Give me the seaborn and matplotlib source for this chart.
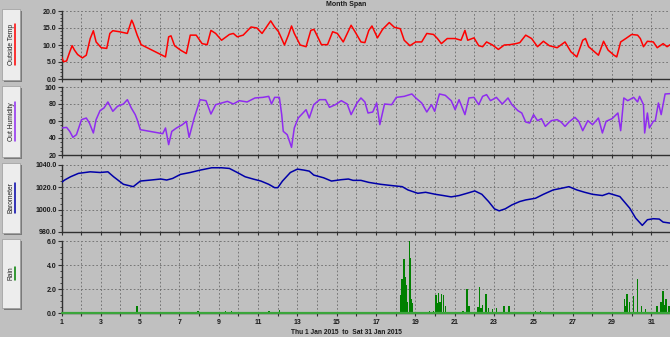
import numpy as np
import pandas as pd
import matplotlib
matplotlib.use("Agg")
import matplotlib.pyplot as plt
import seaborn as sns
from matplotlib.ticker import MultipleLocator, AutoMinorLocator
from matplotlib.patches import Rectangle
from matplotlib.lines import Line2D

# ---------------- data (day of January 2015, fractional) ----------------
temp_day = [1.00, 1.10, 1.26, 1.42, 1.54, 1.66, 1.82, 2.06, 2.26, 2.46, 2.62, 2.76, 3.02, 3.30,
            3.46, 3.61, 3.95, 4.35, 4.57, 4.65, 4.85, 5.05, 6.29, 6.45, 6.57, 6.75, 7.05, 7.35,
            7.55, 7.85, 8.15, 8.41, 8.60, 8.84, 9.14, 9.54, 9.74, 9.94, 10.24, 10.64, 10.94,
            11.20, 11.64, 11.84, 12.04, 12.34, 12.54, 12.70, 12.84, 13.14, 13.44, 13.68, 13.84,
            14.03, 14.22, 14.53, 14.79, 15.03, 15.33, 15.73, 15.93, 16.23, 16.43, 16.63, 16.79,
            17.07, 17.33, 17.67, 17.93, 18.23, 18.43, 18.72, 19.02, 19.32, 19.58, 19.92, 20.12,
            20.32, 20.62, 21.02, 21.32, 21.52, 21.66, 21.98, 22.22, 22.42, 22.62, 22.92, 23.22,
            23.52, 23.81, 24.11, 24.31, 24.61, 24.91, 25.21, 25.51, 25.81, 26.21, 26.61, 26.91,
            27.21, 27.51, 27.65, 27.81, 28.11, 28.31, 28.57, 28.80, 29.10, 29.24, 29.44, 29.70,
            30.00, 30.30, 30.44, 30.60, 30.80, 31.10, 31.30, 31.60, 31.80, 31.96]
temp_val = [6.5, 5.1, 5.3, 8.0, 9.8, 8.5, 7.2, 6.2, 7.0, 11.9, 14.2, 10.9, 9.2, 9.0,
            13.4, 14.2, 13.9, 13.4, 17.3, 16.3, 12.9, 10.1, 6.5, 12.4, 12.7, 9.8, 8.5, 7.5,
            12.9, 12.9, 10.4, 10.1, 14.3, 13.4, 11.4, 13.1, 13.4, 12.4, 12.9, 15.3, 15.0,
            13.4, 17.1, 15.3, 13.9, 10.0, 12.9, 15.6, 13.4, 10.0, 9.5, 14.3, 14.6,
            12.4, 10.1, 10.1, 13.9, 13.4, 10.9, 15.8, 13.9, 10.9, 10.7, 14.3, 15.6,
            12.1, 14.6, 16.6, 15.2, 14.8, 11.4, 9.8, 10.9, 10.9, 13.4, 13.1, 11.9,
            10.4, 11.9, 11.9, 11.4, 14.3, 11.4, 12.1, 9.8, 9.5, 10.9, 10.0, 8.7,
            10.0, 10.1, 10.4, 10.7, 12.9, 11.9, 9.5, 11.1, 9.8, 9.2, 10.9, 8.0,
            6.5, 11.4, 11.9, 9.5, 8.0, 7.0, 11.1, 8.5, 7.0, 6.5, 10.9, 11.9,
            13.1, 12.9, 11.9, 9.5, 11.1, 10.9, 9.2, 10.4, 9.5, 10.1]

hum_day = [1.00, 1.26, 1.42, 1.58, 1.76, 2.02, 2.26, 2.42, 2.62, 2.76, 2.96, 3.16, 3.36, 3.61,
           3.85, 4.15, 4.35, 4.55, 4.75, 4.85, 5.01, 6.15, 6.29, 6.45, 6.61, 6.85, 7.15, 7.35,
           7.49, 7.75, 8.05, 8.35, 8.60, 8.84, 9.14, 9.44, 9.74, 10.04, 10.44, 10.84, 11.24,
           11.54, 11.68, 11.84, 12.08, 12.20, 12.28, 12.48, 12.70, 12.84, 13.04, 13.44, 13.60,
           13.83, 14.13, 14.43, 14.63, 14.93, 15.23, 15.53, 15.73, 16.03, 16.23, 16.43, 16.59,
           16.83, 17.03, 17.19, 17.43, 17.79, 18.03, 18.43, 18.82, 19.02, 19.32, 19.58, 19.82,
           19.98, 20.22, 20.52, 20.82, 21.02, 21.22, 21.52, 21.72, 21.98, 22.22, 22.42, 22.62,
           22.82, 23.12, 23.42, 23.71, 23.91, 24.21, 24.41, 24.61, 24.81, 25.01, 25.21, 25.41,
           25.61, 25.91, 26.21, 26.41, 26.61, 26.81, 27.11, 27.31, 27.51, 27.77, 28.01, 28.31,
           28.51, 28.70, 29.00, 29.30, 29.44, 29.60, 29.80, 30.10, 30.30, 30.40, 30.60, 30.66,
           30.80, 30.90, 31.10, 31.20, 31.36, 31.50, 31.70, 31.96]
hum_val = [51.8, 52.5, 47.8, 40.8, 43.9, 61.6, 63.5, 57.6, 45.9, 61.6, 72.2, 75.3, 82.4, 71.4,
           77.3, 80.0, 85.1, 75.3, 67.5, 61.6, 49.8, 45.1, 51.8, 32.2, 47.8, 51.8, 55.7, 59.6,
           40.8, 63.5, 85.1, 83.9, 68.2, 79.2, 81.2, 83.1, 80.0, 83.9, 82.4, 87.1, 87.8,
           89.0, 80.0, 87.8, 87.8, 67.5, 47.8, 43.9, 29.0, 51.8, 63.5, 73.3, 63.5,
           79.2, 85.1, 85.1, 76.1, 79.2, 83.9, 80.0, 67.5, 81.2, 87.1, 82.4, 69.4,
           70.6, 81.2, 55.7, 80.0, 79.2, 87.8, 89.0, 91.8, 87.1, 81.2, 70.6, 79.2,
           71.4, 91.8, 90.2, 83.9, 73.3, 85.1, 67.5, 87.1, 87.8, 79.2, 89.0, 91.0,
           83.9, 87.8, 80.0, 87.1, 79.2, 72.2, 69.4, 58.8, 57.6, 67.5, 60.4, 62.7,
           53.7, 60.4, 61.6, 58.8, 53.7, 58.8, 64.3, 59.6, 48.6, 60.4, 55.7, 63.5,
           45.9, 59.6, 62.7, 69.4, 48.6, 87.1, 83.9, 87.8, 82.4, 89.0, 79.2, 45.9,
           69.4, 51.8, 59.6, 60.4, 81.2, 67.5, 91.8, 92.2]

baro_day = [1.00, 1.16, 1.46, 1.86, 2.46, 2.96, 3.36, 3.65, 4.15, 4.65, 5.01, 5.55, 6.05, 6.35,
            6.65, 7.05, 7.55, 8.05, 8.64, 9.14, 9.54, 9.94, 10.34, 10.74, 11.14, 11.54, 11.84,
            12.00, 12.24, 12.64, 13.00, 13.34, 13.60, 13.83, 14.33, 14.73, 15.23, 15.59, 15.83,
            16.23, 16.63, 17.23, 17.83, 18.33, 18.62, 19.12, 19.52, 20.02, 20.42, 20.82, 21.22,
            21.62, 22.02, 22.38, 22.72, 23.02, 23.26, 23.57, 23.91, 24.31, 24.61, 25.11, 25.51,
            26.01, 26.41, 26.81, 27.21, 27.61, 28.01, 28.51, 28.84, 29.40, 29.90, 30.20, 30.54,
            30.80, 31.10, 31.40, 31.60, 31.96]
baro_val = [1024.1, 1026.2, 1029.1, 1032.1, 1033.5, 1032.9, 1033.5, 1029.1, 1022.4, 1020.3,
            1025.3, 1026.2, 1027.1, 1026.2, 1027.6, 1031.2, 1032.9, 1035.0, 1037.1, 1037.1,
            1036.5, 1032.9, 1029.1, 1027.1, 1025.3, 1022.4, 1019.4, 1019.4, 1025.3, 1032.9,
            1035.9, 1035.0, 1034.1, 1030.6, 1028.2, 1025.3, 1026.5, 1027.1, 1025.9, 1025.9,
            1024.1, 1022.4, 1021.2, 1020.3, 1017.4, 1014.4, 1015.3, 1013.5, 1012.4, 1011.2,
            1012.4, 1014.4, 1016.5, 1013.5, 1007.1, 1000.6, 998.8, 1000.6, 1004.1, 1007.1,
            1008.5, 1010.0, 1013.5, 1017.4, 1018.8, 1020.3, 1017.4, 1015.3, 1013.5, 1012.4,
            1014.4, 1011.5, 1001.2, 992.4, 985.9, 990.9, 991.8, 991.5, 988.8, 987.9]

rain_day = [4.85, 7.95, 9.34, 9.64, 11.54, 12.08, 18.25, 18.33, 18.38, 18.43, 18.48, 18.53,
            18.60, 18.69, 18.72, 18.77, 18.82, 19.72, 19.92, 20.06, 20.12, 20.18, 20.25, 20.32,
            20.42, 20.52, 21.42, 21.62, 21.72, 22.18, 22.26, 22.34, 22.42, 22.58, 22.72, 22.92,
            23.12, 23.52, 23.77, 25.11, 25.37, 29.64, 29.70, 29.76, 29.90, 30.10, 30.30, 30.50,
            30.70, 31.30, 31.50, 31.60, 31.68, 31.76, 31.90]
rain_val = [0.6, 0.2, 0.2, 0.15, 0.15, 0.25, 1.5, 2.8, 1.2, 4.5, 3.0, 2.3,
            0.9, 6.0, 4.6, 1.2, 0.8, 0.2, 0.2, 1.5, 0.8, 1.65, 0.9, 1.6,
            1.5, 0.55, 0.2, 2.0, 0.55, 0.5, 2.2, 0.4, 0.7, 1.6, 0.4, 0.3,
            0.4, 0.6, 0.55, 0.2, 0.15, 1.15, 0.6, 1.6, 0.95, 1.4, 2.8, 0.55,
            0.3, 0.6, 0.95, 1.8, 0.7, 1.15, 0.55]

panel_names = ["Outside Temp", "Out Humidity", "Barometer", "Rain"]
title_text = "Month Span"
range_text = "Thu 1 Jan 2015  to  Sat 31 Jan 2015"

# ---------------- style ----------------
sns.set_theme(style="white")
plt.rcParams['font.family'] = ['Liberation Sans', 'DejaVu Sans']
BG = '#C0C0C0'
DARK = '#303030'
GRID = '#6a6a6a'

W, H = 670, 337
fig = plt.figure(figsize=(W / 100, H / 100), dpi=100, facecolor=BG)

def add_panel(top, bottom):
    return fig.add_axes([61.5 / W, (H - bottom) / H, (671 - 61.5) / W, (bottom - top) / H])

panels = [
    dict(top=11, bottom=79, ylim=(0, 20), major=5, minor=5, fmt="{:.1f}", color='#FF0000'),
    dict(top=87, bottom=155, ylim=(20, 100), major=20, minor=4, fmt="{:.0f}", color='#8F2BF0'),
    dict(top=164.5, bottom=232, ylim=(980, 1040), major=20, minor=4, fmt="{:.1f}", color='#0000A8'),
    dict(top=241, bottom=313, ylim=(0, 6), major=2, minor=4, fmt="{:.1f}", color='#008000'),
]
series = [(temp_day, temp_val), (hum_day, hum_val), (baro_day, baro_val), None]

for i, p in enumerate(panels):
    ax = add_panel(p['top'], p['bottom'])
    ax.set_facecolor(BG)
    ax.set_xlim(1, 32)
    ax.set_ylim(*p['ylim'])
    for s in ['top', 'right']:
        ax.spines[s].set_visible(False)
    for s in ['left', 'bottom']:
        ax.spines[s].set_color(DARK)
        ax.spines[s].set_linewidth(1.0)
    ax.yaxis.set_minor_locator(AutoMinorLocator(p['minor']))
    ticks = np.arange(p['ylim'][0], p['ylim'][1] + 1e-9, p['major'])
    ax.set_yticks(ticks)
    ax.set_yticklabels([p['fmt'].format(t) for t in ticks])
    days = list(range(1, 33))
    ax.set_xticks(days)
    if i == 3:
        ax.set_xticklabels([str(d) if d % 2 == 1 else '' for d in days])
    else:
        ax.set_xticklabels([''] * len(days))
    ax.tick_params(axis='y', which='major', direction='out', length=3, width=0.8,
                   color=DARK, pad=0.5, labelsize=5, labelcolor='#1a1a1a', left=True)
    ax.tick_params(axis='y', which='minor', direction='out', length=1.5, width=0.6,
                   color=DARK, left=True)
    ax.tick_params(axis='x', which='major', direction='out', length=2.5, width=0.8,
                   color=DARK, pad=1.5, labelsize=5, labelcolor='#1a1a1a', bottom=True)
    for lab in ax.get_yticklabels() + ax.get_xticklabels():
        lab.set_fontweight('bold')
    ax.grid(True, which='major', axis='both', color=GRID, linestyle=(0, (2.0, 2.5)),
            linewidth=0.6)
    if series[i] is not None:
        df = pd.DataFrame({'day': series[i][0], 'val': series[i][1]})
        sns.lineplot(data=df, x='day', y='val', ax=ax, color=p['color'], linewidth=1.1,
                     sort=False, estimator=None, zorder=3)
    else:
        ax.axhline(0, color='#3aa53a', linewidth=1.6, zorder=4, clip_on=False)
        ax.bar(rain_day, rain_val, width=0.08, color='#008000', linewidth=0, zorder=3)
    ax.set_xlabel('')
    ax.set_ylabel('')

# ---------------- label buttons ----------------
boxes = [(9, 80), (86, 157), (163, 233), (239, 308)]

def fx(x):
    return x / W

def fy(y):
    return 1 - y / H

texts = []
for (t, b), name, p in zip(boxes, panel_names, panels):
    fig.patches.append(Rectangle((fx(3.5), fy(b + 1.5)), fx(18), (b - t) / H,
                                 transform=fig.transFigure, facecolor='#7a7a7a',
                                 edgecolor='none', zorder=1))
    fig.patches.append(Rectangle((fx(2), fy(b)), fx(18), (b - t) / H,
                                 transform=fig.transFigure, facecolor='#EDEDED',
                                 edgecolor='#9a9a9a', linewidth=0.5, zorder=2))
    tx = fig.text(fx(11.3), fy((t + b) / 2), name, rotation=90, ha='center', va='center',
                  fontsize=4.8, color='#202020', zorder=3)
    texts.append((tx, p['color']))

fig.text(fx(346), fy(4.5), title_text, ha='center', va='center', fontsize=5,
         fontweight='bold', color='#1a1a1a')
fig.text(fx(346), fy(332.5), range_text, ha='center', va='center', fontsize=4.8,
         fontweight='bold', color='#1a1a1a')

fig.canvas.draw()
inv = fig.transFigure.inverted()
for tx, col in texts:
    bb = tx.get_window_extent()
    (x0, y0), (x1, y1) = inv.transform([[bb.x0, bb.y0], [bb.x1, bb.y1]])
    fig.lines.append(Line2D([fx(15.3), fx(15.3)], [y0, y1], transform=fig.transFigure,
                            color=col, linewidth=1.1, zorder=4))

fig.savefig('out.png', dpi=100, facecolor=BG)
